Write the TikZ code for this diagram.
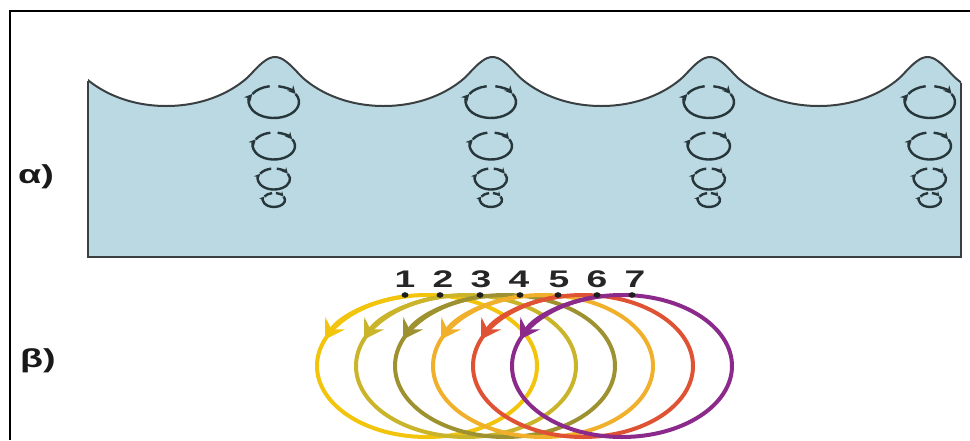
\documentclass[tikz,border=0pt]{standalone}
\usepackage{fontspec}
\setmainfont{Liberation Sans}
\usetikzlibrary{arrows.meta}

\definecolor{seawater}{RGB}{187,217,226}
\definecolor{seaedge}{RGB}{58,64,66}
\definecolor{orbitink}{RGB}{38,54,58}
\definecolor{dotink}{RGB}{30,30,30}
\definecolor{ringA}{RGB}{242,196,12}
\definecolor{ringB}{RGB}{202,180,42}
\definecolor{ringC}{RGB}{158,146,48}
\definecolor{ringD}{RGB}{241,176,44}
\definecolor{ringE}{RGB}{224,82,52}
\definecolor{ringF}{RGB}{140,42,140}

\tikzset{
  frameline/.style={line width=2.5pt, black},
  seaoutline/.style={draw=seaedge, line width=2pt, line join=round},
  orbitline/.style={draw=orbitink, line width=2.4pt},
  ringline/.style={line width=4pt},
  ringtip/.style={-{Stealth[length=19pt,width=23pt,inset=7pt]}},
  greeklabel/.style={anchor=base west, inner sep=0pt, text=black!90, font=\bfseries\fontsize{26}{30}\selectfont},
  digit/.style={anchor=base, inner sep=0pt, text=black!85, font=\bfseries\fontsize{24}{28}\selectfont},
}

% one orbit ring: centre x, centre y, x radius, y radius, tip size
\newcommand\orbitring[5]{%
  \draw[orbitline,-{Stealth[length=#5,width=#5]}] ([shift={(-80:#3 and #4)}]#1,#2)
    arc[start angle=-80,end angle=-30,x radius=#3,y radius=#4];
  \draw[orbitline,-{Stealth[length=#5,width=#5]}] ([shift={(-30:#3 and #4)}]#1,#2)
    arc[start angle=-30,end angle=210,x radius=#3,y radius=#4];
  \draw[orbitline] ([shift={(210:#3 and #4)}]#1,#2)
    arc[start angle=210,end angle=260,x radius=#3,y radius=#4];
}
% a column of orbits shrinking with depth
\newcommand\orbitcolumn[1]{%
  \orbitring{#1}{102}{25}{16}{8pt}
  \orbitring{#1}{146}{21}{13.5}{7pt}
  \orbitring{#1}{179}{16}{10.5}{6pt}
  \orbitring{#1}{200}{11}{7}{5pt}
}
% one particle loop: centre x, colour
\newcommand\travelring[2]{%
  \draw[ringline,draw=#2] (#1,366) ellipse[x radius=110,y radius=71];
  \draw[ringline,draw=#2,fill=none,ringtip] ([shift={(-100:110 and 71)}]#1,366)
    arc[start angle=-100,end angle=-158,x radius=110,y radius=71];
}

\begin{document}
\begin{tikzpicture}[x=1pt,y=-1pt]
\useasboundingbox (0,0) rectangle (970,440);

% outer frame
\draw[frameline] (10,440) -- (10,11) -- (970,11);

% water body with wave surface
\begin{scope}
  \clip (88,0) rectangle (961,300);
  \fill[seawater] (57.5,57)
    \foreach \c in {57.5,275,492.5,710,927.5} {
      .. controls (\c+7,57) and (\c+14,63) .. (\c+24,74)
      .. controls (\c+33,84) and (\c+62,106) .. (\c+108.75,106)
      .. controls (\c+155.5,106) and (\c+184.5,84) .. (\c+193.5,74)
      .. controls (\c+203.5,63) and (\c+210.5,57) .. (\c+217.5,57)
    } -- (1145,257) -- (57.5,257) -- cycle;
  \draw[seaoutline] (57.5,57)
    \foreach \c in {57.5,275,492.5,710,927.5} {
      .. controls (\c+7,57) and (\c+14,63) .. (\c+24,74)
      .. controls (\c+33,84) and (\c+62,106) .. (\c+108.75,106)
      .. controls (\c+155.5,106) and (\c+184.5,84) .. (\c+193.5,74)
      .. controls (\c+203.5,63) and (\c+210.5,57) .. (\c+217.5,57)
    };
\end{scope}
\draw[seaoutline, line join=miter] (88,80.5) -- (88,257) -- (961,257) -- (961,82.5);

% orbits under each crest
\orbitcolumn{274}
\orbitcolumn{491}
\orbitcolumn{709}
\orbitcolumn{930}

% particle loops
\travelring{427}{ringA}
\travelring{466}{ringB}
\travelring{505}{ringC}
\travelring{543}{ringD}
\travelring{583}{ringE}
\travelring{622}{ringF}

% particle markers
\foreach \x in {405,440,480,520,558,597,632}
  \fill[dotink] (\x,295) ellipse[x radius=3.5,y radius=2.8];

% labels
\node[greeklabel] (alpha) at (18,183) {\scalebox{1.45}[1]{α)}};
\node[greeklabel] (beta) at (20,367) {\scalebox{1.45}[1]{β)}};
\node[digit] (n1) at (405,287) {\scalebox{1.55}[1]{1}};
\node[digit] (n2) at (443,287) {\scalebox{1.55}[1]{2}};
\node[digit] (n3) at (481,287) {\scalebox{1.55}[1]{3}};
\node[digit] (n4) at (519,287) {\scalebox{1.55}[1]{4}};
\node[digit] (n5) at (559,287) {\scalebox{1.55}[1]{5}};
\node[digit] (n6) at (597,287) {\scalebox{1.55}[1]{6}};
\node[digit] (n7) at (635,287) {\scalebox{1.55}[1]{7}};
\end{tikzpicture}
\end{document}
